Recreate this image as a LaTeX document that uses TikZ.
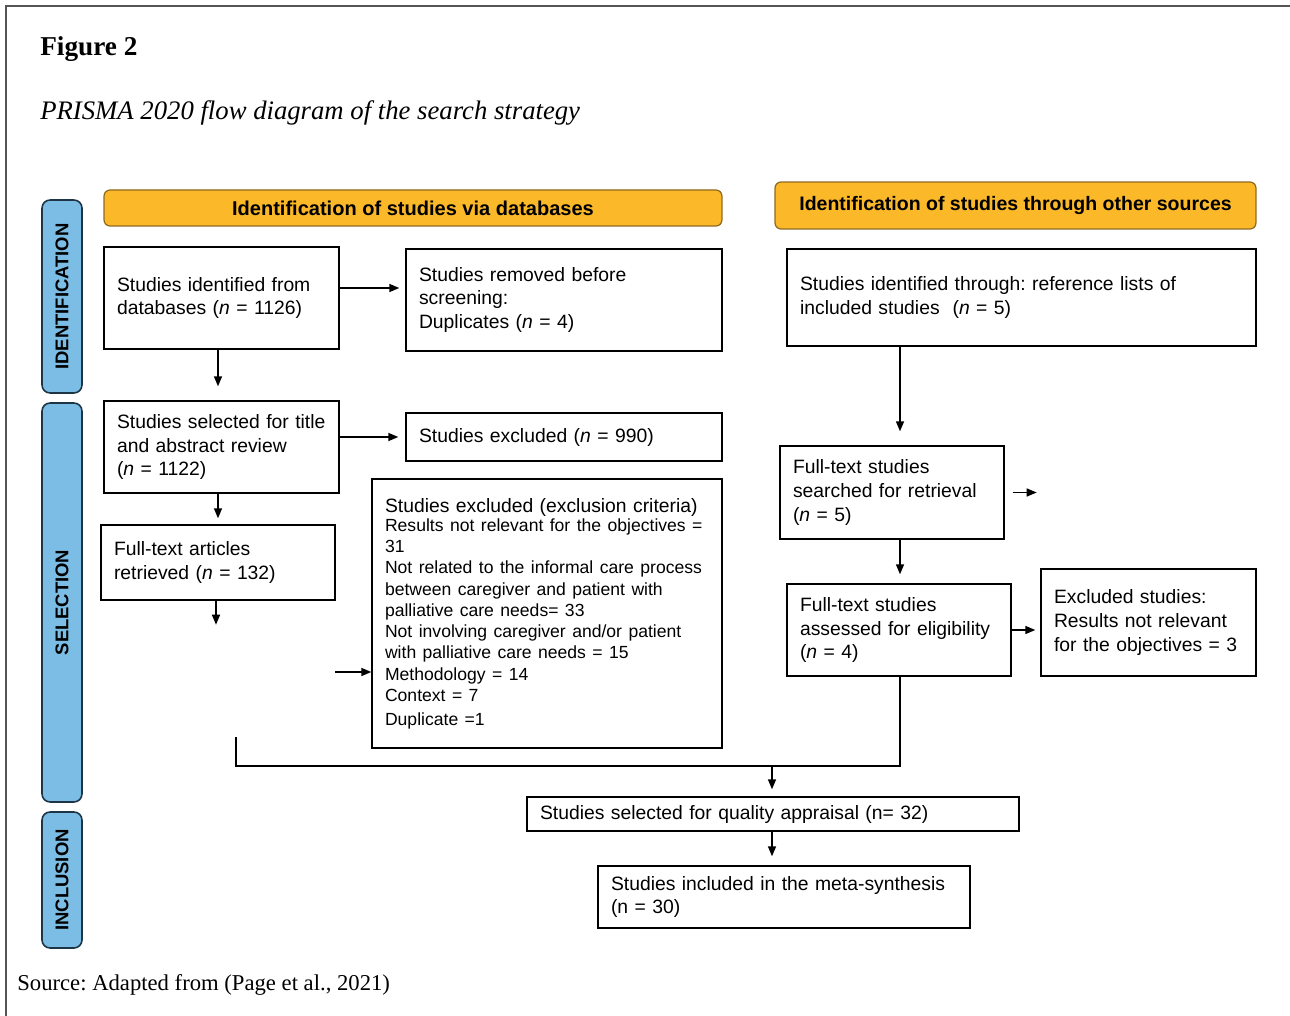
\documentclass[tikz,border=0pt]{standalone}
\usepackage{fontspec}
\setmainfont{Liberation Serif}
\newfontfamily\arial{Liberation Sans}
\usetikzlibrary{arrows.meta,calc}
\frenchspacing
\definecolor{hdrorange}{HTML}{FBB829}
\definecolor{hdrborder}{HTML}{8E6A1C}
\definecolor{sideblue}{HTML}{7BBDE4}
\definecolor{sideborder}{HTML}{1E3546}
\definecolor{framegray}{HTML}{555555}
\tikzset{
  bx/.style={draw=black, line width=0.8pt, fill=white, inner xsep=0.26cm, inner ysep=0pt,
    align=left, font=\arial\fontsize{11}{13.6}\selectfont},
  hdr/.style={draw=hdrborder, line width=0.7pt, fill=hdrorange, rounded corners=0.12cm,
    inner sep=0pt, align=center},
  side/.style={draw=sideborder, line width=0.9pt, fill=sideblue, rounded corners=0.16cm,
    rotate=90, inner sep=0pt, minimum height=0.80cm,
    font=\arial\bfseries\fontsize{10.5}{12}\selectfont},
  arr/.style={-{Triangle[length=0.2cm,width=0.16cm]}, line width=0.8pt, draw=black},
  ln/.style={line width=0.8pt, draw=black},
}
\begin{document}
\begin{tikzpicture}[x=0.02cm, y=-0.02cm]
\useasboundingbox (0,0) rectangle (1290,1016);
% frame
\draw[framegray, line width=1.1pt] (6,1016) -- (6,6) -- (1290,6);
% captions
\node[anchor=west, inner sep=0pt, font=\bfseries\fontsize{15.5}{18}\selectfont] (fig) at (40,49) {Figure 2};
\node[anchor=west, inner sep=0pt, font=\itshape\fontsize{15.2}{18}\selectfont] (ttl) at (40,113) {PRISMA 2020 flow diagram of the search strategy};
\node[anchor=west, inner sep=0pt, font=\fontsize{12.9}{15}\selectfont] (src) at (17,985) {Source: Adapted from (Page et al., 2021)};
% side bars
\node[side, minimum width=3.86cm] (sid) at (62,296.5) {IDENTIFICATION};
\node[side, minimum width=7.98cm] (ssel) at (62,602.5) {SELECTION};
\node[side, minimum width=2.72cm] (sinc) at (62,880) {INCLUSION};
% headers
\node[hdr, minimum width=12.36cm, minimum height=0.72cm, font=\arial\bfseries\fontsize{11.4}{14}\selectfont] (h1) at (413,208) {Identification of studies via databases};
\node[hdr, minimum width=9.62cm, minimum height=0.94cm, font=\arial\bfseries\fontsize{11.1}{14}\selectfont] (h2) at (1015.5,205.5) {Identification of studies through other sources};
% boxes
\node[bx, text width=4.18cm, minimum height=2.04cm] (A) at (221.5,298) {Studies identified from\\databases (\textit{n} = 1126)};
\node[bx, text width=5.80cm, minimum height=2.04cm] (B) at (564,300) {Studies removed before\\screening:\\Duplicates (\textit{n} = 4)};
\node[bx, text width=4.18cm, minimum height=1.84cm] (C) at (221.5,447) {Studies selected for title\\and abstract review\\(\textit{n} = 1122)};
\node[bx, text width=5.80cm, minimum height=0.96cm] (D) at (564,437) {Studies excluded (\textit{n} = 990)};
\node[bx, text width=4.16cm, minimum height=1.50cm] (E) at (218,562.5) {Full-text articles\\retrieved (\textit{n} = 132)};
\node[bx, text width=6.48cm, minimum height=5.38cm] (F) at (547,613.5) {Studies excluded (exclusion criteria)\\[-1.2pt]
{\fontsize{10}{12.1}\selectfont Results not relevant for the objectives =\\31\\Not related to the informal care process\\between caregiver and patient with\\palliative care needs= 33\\Not involving caregiver and/or patient\\with palliative care needs = 15\\Methodology = 14\\Context = 7\\Duplicate =1}};
\node[bx, text width=8.86cm, minimum height=1.94cm] (G) at (1021.5,297.5) {Studies identified through: reference lists of\\included studies~~(\textit{n} = 5)};
\node[bx, text width=3.96cm, minimum height=1.86cm] (H) at (892,492.5) {Full-text studies\\searched for retrieval\\(\textit{n} = 5)};
\node[bx, text width=3.96cm, minimum height=1.84cm] (I) at (899,630) {Full-text studies\\assessed for eligibility\\(\textit{n} = 4)};
\node[bx, text width=3.78cm, minimum height=2.14cm] (J) at (1148.5,622.5) {Excluded studies:\\Results not relevant\\for the objectives = 3};
\node[bx, text width=9.32cm, minimum height=0.68cm] (K) at (773,814) {Studies selected for quality appraisal (n= 32)};
\node[bx, text width=6.92cm, minimum height=1.24cm] (L) at (784,897) {Studies included in the meta-synthesis\\(n = 30)};
% connectors
\coordinate (a1) at ($(A.east)+(0,-10)$);
\draw[arr, shorten >=0.12cm] (a1) -- (a1 -| B.west);
\draw[arr, shorten >=0.28cm] (E.north |- A.south) -- (E.north |- C.north);
\draw[arr, shorten >=0.14cm] (C.east |- D.west) -- (D.west);
\draw[arr, shorten >=0.12cm] (E.north |- C.south) -- (E.north);
\coordinate (e1) at ($(E.south)+(-2,24)$);
\draw[arr] (e1 |- E.south) -- (e1);
\coordinate (f1) at (335,672);
\draw[arr] (f1) -- (f1 -| F.west);
\coordinate (m1) at (236,737);
\coordinate (mj) at (772,766);
\coordinate (i1) at ($(I.south)+(1,0)$);
\draw[ln] (m1) -- (m1 |- mj) -- (i1 |- mj) -- (i1);
\draw[arr, shorten >=0.14cm] (mj) -- (mj |- K.north);
\draw[arr, shorten >=0.28cm] (i1 |- G.south) -- (i1 |- H.north);
\coordinate (h2) at ($(H.east)+(32,0)$);
\draw[arr] ($(H.east)+(8,0)$) -- (h2);
\draw[arr, shorten >=0.18cm] (i1 |- H.south) -- (i1 |- I.north);
\draw[arr, shorten >=0.1cm] (I.east) -- (I.east -| J.west);
\draw[arr, shorten >=0.18cm] (mj |- K.south) -- (mj |- L.north);
\end{tikzpicture}
\end{document}
